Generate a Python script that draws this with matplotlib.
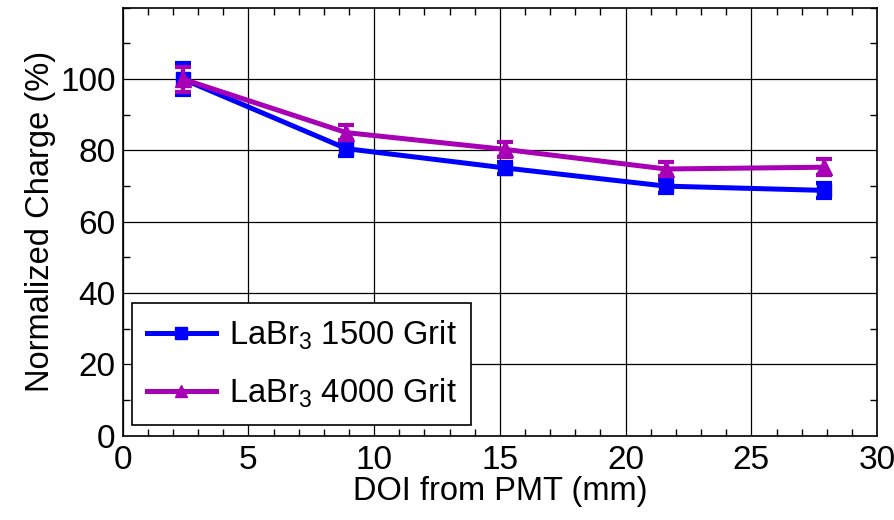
import numpy as np
import matplotlib.pyplot as plt
from matplotlib.ticker import MultipleLocator

plt.rcParams['font.family'] = ['Liberation Sans', 'DejaVu Sans']

# data
doi = [2.4, 8.9, 15.2, 21.6, 27.9]
charge_1500 = [100.0, 80.5, 75.1, 70.0, 68.8]
err_1500 = [4.5, 2.0, 1.8, 1.8, 2.0]
charge_4000 = [100.0, 85.0, 80.3, 74.8, 75.3]
err_4000 = [3.5, 2.2, 2.0, 2.0, 2.2]

fig = plt.figure(figsize=(8.95, 5.2), dpi=100)
ax = fig.add_axes([0.137, 0.162, 0.843, 0.823])

eb1 = ax.errorbar(doi, charge_1500, yerr=err_1500, color='#0000ff', lw=3.6,
                  marker='s', ms=10, capsize=6, capthick=3, elinewidth=3,
                  zorder=3)
eb2 = ax.errorbar(doi, charge_4000, yerr=err_4000, color='#a800b4', lw=3.6,
                  marker='^', ms=11, capsize=6, capthick=3, elinewidth=3,
                  zorder=4)

ax.set_xlim(0, 30)
ax.set_ylim(0, 120)
ax.set_xticks([0, 5, 10, 15, 20, 25, 30])
ax.set_yticks([0, 20, 40, 60, 80, 100])
ax.xaxis.set_minor_locator(MultipleLocator(1))
ax.yaxis.set_minor_locator(MultipleLocator(10))
ax.tick_params(which='both', direction='in', top=True, right=True, labelsize=24)
ax.tick_params(axis='x', which='both', pad=7)
ax.tick_params(axis='y', which='both', pad=5)
ax.tick_params(which='major', length=0)
ax.tick_params(which='minor', length=5, width=1)
ax.grid(True, which='major', color='black', lw=0.9)
for s in ax.spines.values():
    s.set_linewidth(1.2)

ax.set_xlabel('DOI from PMT (mm)', fontsize=23.5, labelpad=0)
ax.set_ylabel('Normalized Charge (%)', fontsize=23.5, labelpad=3)

leg = ax.legend([eb1[0], eb2[0]],
                [r'LaBr$_{\mathregular{3}}$ 1500 Grit', r'LaBr$_{\mathregular{3}}$ 4000 Grit'],
                loc='lower left', bbox_to_anchor=(0.013, 0.026), borderaxespad=0,
                fontsize=23.5, fancybox=False, edgecolor='black', framealpha=1,
                markerscale=0.8, handlelength=2.1, borderpad=0.45,
                labelspacing=0.75, handletextpad=0.4)
leg.get_frame().set_linewidth(1.2)

fig.savefig('out.png', dpi=100)
